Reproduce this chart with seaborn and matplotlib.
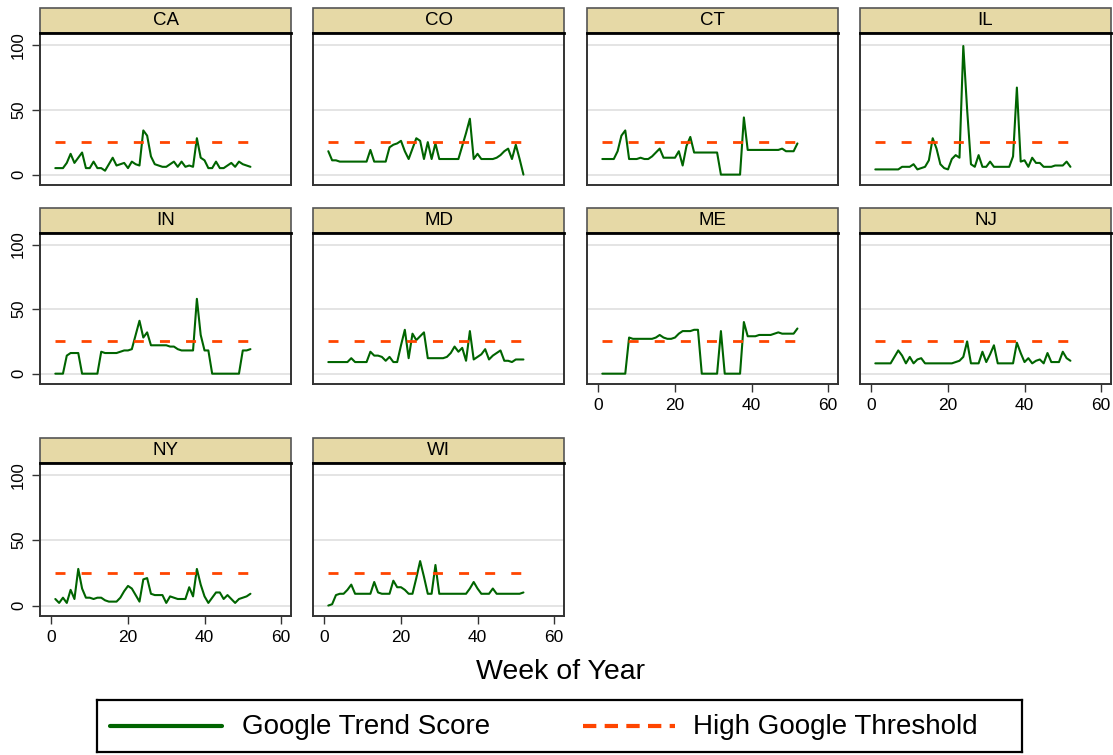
import numpy as np
import pandas as pd
import matplotlib.pyplot as plt
import seaborn as sns
from matplotlib.patches import Rectangle

# weekly google trend scores per state (weeks 1..52)
weeks = list(range(1, 53))
states = ['CA', 'CO', 'CT', 'IL', 'IN', 'MD', 'ME', 'NJ', 'NY', 'WI']
threshold = 25

ca = [5, 5, 5, 9, 16, 9, 13, 17, 5, 5, 10, 5, 5, 3, 8, 13, 7, 8, 9, 5,
      10, 8, 7, 34, 30, 14, 8, 7, 6, 6, 8, 10, 6, 10, 6, 7, 6, 28, 13, 11,
      5, 5, 10, 5, 5, 7, 9, 6, 10, 8, 7, 6]
co = [18, 11, 11, 10, 10, 10, 10, 10, 10, 10, 10, 19, 10, 10, 10, 10, 21, 23, 24, 26,
      18, 12, 20, 28, 26, 12, 25, 12, 24, 12, 12, 12, 12, 12, 12, 22, 32, 43, 12, 16,
      12, 12, 12, 12, 13, 15, 18, 20, 12, 23, 12, 0]
ct = [12, 12, 12, 12, 18, 30, 34, 12, 12, 12, 13, 12, 12, 14, 17, 20, 13, 13, 13, 13,
      18, 7, 22, 29, 17, 17, 17, 17, 17, 17, 17, 0, 0, 0, 0, 0, 0, 44, 19, 19,
      19, 19, 19, 19, 19, 19, 19, 20, 18, 18, 18, 24]
il = [4, 4, 4, 4, 4, 4, 4, 6, 6, 6, 8, 4, 5, 6, 11, 28, 20, 8, 5, 4,
      12, 15, 13, 99, 50, 8, 6, 15, 6, 6, 10, 6, 6, 6, 6, 6, 14, 67, 10, 11,
      6, 13, 9, 9, 6, 6, 6, 7, 7, 7, 10, 6]
in_ = [0, 0, 0, 14, 16, 16, 16, 0, 0, 0, 0, 0, 17, 16, 16, 16, 16, 17, 18, 18,
       19, 30, 41, 28, 32, 22, 22, 22, 22, 22, 21, 21, 19, 18, 18, 18, 18, 58, 30, 18,
       18, 0, 0, 0, 0, 0, 0, 0, 0, 18, 18, 19]
md = [9, 9, 9, 9, 9, 9, 12, 9, 9, 9, 9, 17, 14, 14, 13, 10, 13, 9, 9, 22,
      34, 12, 31, 26, 29, 32, 12, 12, 12, 12, 12, 13, 16, 21, 17, 20, 10, 33, 11, 13,
      15, 19, 11, 14, 16, 18, 10, 10, 9, 11, 11, 11]
me = [0, 0, 0, 0, 0, 0, 0, 28, 27, 27, 27, 27, 27, 27, 28, 30, 28, 27, 27, 28,
      31, 33, 33, 33, 34, 34, 0, 0, 0, 0, 0, 33, 0, 0, 0, 0, 0, 40, 29, 29,
      29, 30, 30, 30, 30, 31, 32, 31, 31, 31, 31, 35]
nj = [8, 8, 8, 8, 8, 13, 18, 14, 8, 13, 8, 11, 12, 8, 8, 8, 8, 8, 8, 8,
      8, 9, 10, 13, 25, 8, 8, 8, 17, 9, 15, 22, 8, 8, 8, 8, 8, 24, 16, 9,
      12, 8, 10, 11, 8, 16, 9, 9, 9, 17, 12, 10]
ny = [5, 2, 6, 2, 12, 5, 28, 13, 6, 6, 5, 6, 6, 4, 3, 3, 3, 6, 11, 15,
      13, 8, 3, 20, 21, 9, 8, 8, 8, 2, 7, 6, 5, 5, 5, 14, 7, 28, 16, 7,
      2, 6, 10, 10, 5, 8, 5, 2, 5, 6, 7, 9]
wi = [0, 1, 8, 9, 9, 12, 16, 9, 9, 9, 9, 9, 18, 10, 9, 9, 9, 19, 14, 14,
      12, 9, 9, 21, 34, 22, 9, 9, 31, 9, 9, 9, 9, 9, 9, 9, 9, 13, 18, 13,
      9, 9, 9, 13, 9, 9, 9, 9, 9, 9, 9, 10]

scores = [ca, co, ct, il, in_, md, me, nj, ny, wi]

df = pd.DataFrame({
    'state': np.repeat(states, len(weeks)),
    'week': weeks * len(states),
    'score': np.concatenate(scores),
})
df['threshold'] = threshold

sns.set_style('white')
plt.rcParams['font.family'] = ['Liberation Sans', 'DejaVu Sans']
plt.rcParams['text.color'] = 'black'
plt.rcParams['xtick.color'] = 'black'
plt.rcParams['ytick.color'] = 'black'

W, H = 1113, 755
green = '#006400'
orange = '#ff4500'
strip_col = '#e6d9a6'

fig = plt.figure(figsize=(W / 100, H / 100), dpi=100)

col_left = [40, 313, 587, 860]
rows = [(33, 185), (233, 384), (463, 616)]
pw = 251
bottom_panels = ['ME', 'NJ', 'NY', 'WI']

for k, st in enumerate(states):
    r, c = divmod(k, 4)
    top, bot = rows[r]
    ax = fig.add_axes([col_left[c] / W, 1 - bot / H, pw / W, (bot - top) / H])
    sub = df[df.state == st]
    sns.lineplot(data=sub, x='week', y='score', color=green, lw=1.5,
                 estimator=None, ax=ax)
    sns.lineplot(data=sub, x='week', y='threshold', color=orange, lw=2,
                 linestyle=(0, (3.6, 5.8)), estimator=None, ax=ax)
    ax.set_xlim(-3, 62.6)
    ax.set_ylim(-8, 109)
    ax.set_xlabel('')
    ax.set_ylabel('')
    ax.set_yticks([0, 50, 100])
    ax.yaxis.grid(True, color='#dcdcdc', lw=1.1)
    ax.set_axisbelow(True)
    for s in ['left', 'right', 'bottom']:
        ax.spines[s].set_color('#333333')
        ax.spines[s].set_linewidth(1.4)
    ax.spines['top'].set_color('black')
    ax.spines['top'].set_linewidth(2)

    if c == 0:
        ax.tick_params(axis='y', left=True, length=6, width=1, color='#333333',
                       labelsize=12, pad=4)
        plt.setp(ax.get_yticklabels(), rotation=90, va='center')
    else:
        ax.tick_params(axis='y', left=False, labelleft=False)

    if st in bottom_panels:
        ax.set_xticks([0, 20, 40, 60])
        ax.tick_params(axis='x', bottom=True, length=6, width=1, color='#333333',
                       labelsize=12.5, pad=4)
    else:
        ax.tick_params(axis='x', bottom=False, labelbottom=False)

    sh = 25 / (bot - top)
    ax.add_patch(Rectangle((0, 1), 1, sh, transform=ax.transAxes, clip_on=False,
                           facecolor=strip_col, edgecolor='#555555', lw=1.2))
    ax.text(0.5, 1 + sh / 2, st, transform=ax.transAxes, ha='center', va='center',
            fontsize=13.5)

fig.text(560 / W, 1 - 672 / H, 'Week of Year', ha='center', va='center', fontsize=20.5)

# legend box
lax = fig.add_axes([97 / W, 1 - 752 / H, 925 / W, 52 / H])
lax.set_xlim(0, 925)
lax.set_ylim(0, 52)
lax.set_xticks([])
lax.set_yticks([])
for s in lax.spines.values():
    s.set_color('black')
    s.set_linewidth(1.6)
lax.plot([13, 125], [26, 26], color=green, lw=3)
lax.text(145, 25, 'Google Trend Score', va='center', fontsize=20)
lax.plot([486, 578], [26, 26], color=orange, lw=3, linestyle=(0, (3.2, 2)))
lax.text(596, 25, 'High Google Threshold', va='center', fontsize=20)

fig.savefig('out.png', dpi=100, facecolor='white')
